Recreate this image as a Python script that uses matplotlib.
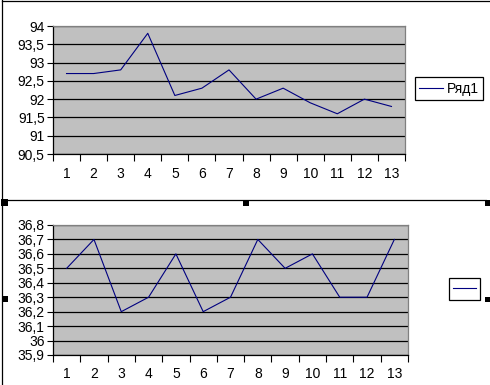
import matplotlib
matplotlib.use("Agg")
import matplotlib.pyplot as plt
from matplotlib.patches import Rectangle
from matplotlib.lines import Line2D
from matplotlib.ticker import MultipleLocator, FixedLocator, FuncFormatter, NullFormatter

plt.rcParams['font.family'] = ['Liberation Sans', 'DejaVu Sans']

categories = list(range(1, 14))
series_top = [92.7, 92.7, 92.8, 93.8, 92.1, 92.3, 92.8, 92.0, 92.3, 91.9, 91.6, 92.0, 91.8]
series_bottom = [36.5, 36.7, 36.2, 36.3, 36.6, 36.2, 36.3, 36.7, 36.5, 36.6, 36.3, 36.3, 36.7]
legend_top = "Ряд1"
legend_bottom = ""

W, H = 490, 385
fig = plt.figure(figsize=(W / 100, H / 100), dpi=100)
fig.patch.set_facecolor('white')


def rect(x, y, w, h):
    return [x / W, 1 - (y + h) / H, w / W, h / H]


def fx(x):
    return x / W


def fy(y):
    return 1 - y / H


def comma(v, pos):
    s = ('%.1f' % v).rstrip('0').rstrip('.')
    return s.replace('.', ',')


def style(ax, ymin, ymax, step, xpad):
    ax.set_facecolor('#C0C0C0')
    ax.set_xlim(0.5, len(categories) + 0.5)
    ax.set_ylim(ymin, ymax)
    ax.yaxis.set_major_locator(MultipleLocator(step))
    ax.yaxis.set_major_formatter(FuncFormatter(comma))
    ax.xaxis.set_major_locator(FixedLocator([c - 0.5 for c in categories] + [categories[-1] + 0.5]))
    ax.xaxis.set_major_formatter(NullFormatter())
    ax.xaxis.set_minor_locator(FixedLocator(categories))
    ax.xaxis.set_minor_formatter(FuncFormatter(lambda v, p: '%d' % round(v)))
    ax.tick_params(axis='x', which='major', length=5, width=0.8, color='black', direction='out')
    ax.tick_params(axis='x', which='minor', length=0, pad=xpad, labelsize=10)
    ax.tick_params(axis='y', which='major', length=4, width=0.8, color='black', direction='out', pad=2, labelsize=10)
    ax.set_axisbelow(True)
    ax.grid(axis='y', color='black', linewidth=0.9)
    for s in ('top', 'right'):
        ax.spines[s].set_color('#808080')
        ax.spines[s].set_linewidth(0.9)
    for s in ('left', 'bottom'):
        ax.spines[s].set_color('black')
        ax.spines[s].set_linewidth(0.9)


ax1 = fig.add_axes(rect(53, 26, 352, 128))
l1, = ax1.plot(categories, series_top, color='#000080', linewidth=0.8)
style(ax1, 90.5, 94, 0.5, 9)

ax2 = fig.add_axes(rect(53, 225, 355, 130))
l2, = ax2.plot(categories, series_bottom, color='#000080', linewidth=0.8)
style(ax2, 35.9, 36.8, 0.1, 9)

leg1 = fig.legend([l1], [legend_top], loc='center',
                  bbox_to_anchor=(fx(449), fy(88.5)), fontsize=10,
                  frameon=True, fancybox=False, framealpha=1, edgecolor='black',
                  borderpad=0.3, handlelength=1.7, handletextpad=0.3, borderaxespad=0)
leg1.get_frame().set_linewidth(0.9)

leg2 = fig.legend([l2], [legend_bottom], loc='center',
                  bbox_to_anchor=(fx(464.5), fy(289)), fontsize=10,
                  frameon=True, fancybox=False, framealpha=1, edgecolor='black',
                  borderpad=0.3, handlelength=1.7, handletextpad=0.0, borderaxespad=0)
leg2.get_frame().set_linewidth(0.9)

# chart frames
fig.add_artist(Line2D([fx(2), fx(490)], [fy(0.5), fy(0.5)], color='black', linewidth=0.9))
fig.add_artist(Line2D([fx(1.5), fx(1.5)], [fy(0), fy(385)], color='black', linewidth=0.9))
fig.add_artist(Line2D([fx(2), fx(486)], [fy(199.5), fy(199.5)], color='black', linewidth=0.9))

# selection handles
for (x, y, w, h) in [(1, 199, 7, 7), (243, 200, 6, 6), (485, 200, 5, 6), (2, 296, 6, 6), (485, 297, 5, 5)]:
    fig.add_artist(Rectangle((fx(x), fy(y + h)), w / W, h / H, transform=fig.transFigure,
                             facecolor='black', edgecolor='none'))

fig.savefig('out.png', dpi=100)
